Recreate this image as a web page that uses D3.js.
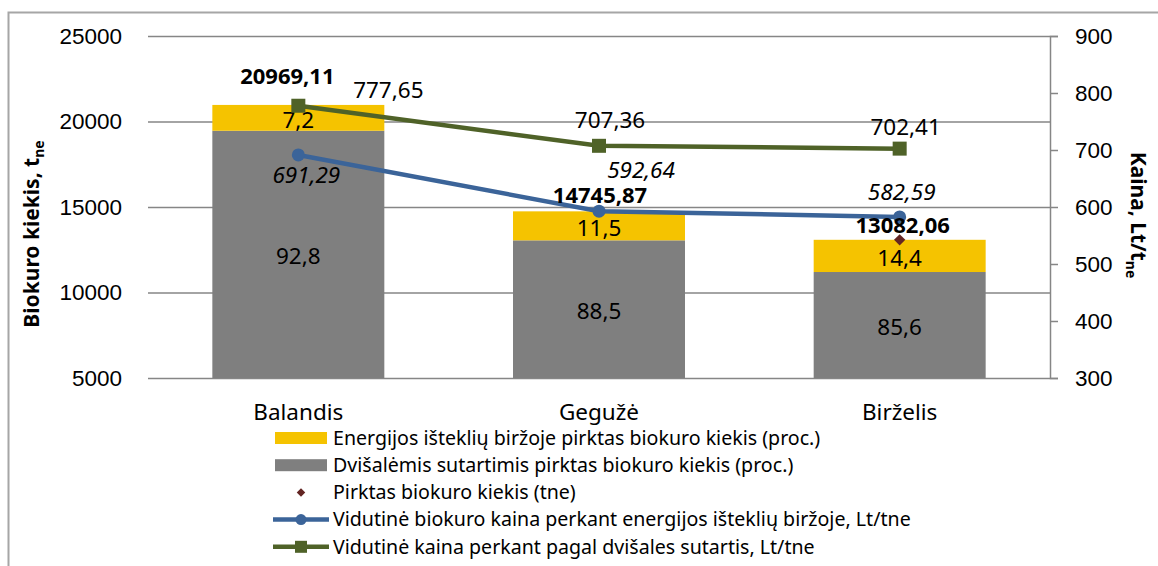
<!DOCTYPE html>
<html>
<head>
<meta charset="utf-8">
<script src="https://cdn.jsdelivr.net/npm/d3@7"></script>
<style>
  body { margin: 0; background: #fff; }
  svg { font-family: "Noto Sans", sans-serif; }
</style>
</head>
<body>
<div id="main"></div>
<script>
// data
const months = ["Balandis", "Gegužė", "Birželis"];
const totalQty = [20969.11, 14745.87, 13082.06];
const exchangePct = [7.2, 11.5, 14.4];
const bilateralPct = [92.8, 88.5, 85.6];
const exchangePrice = [691.29, 592.64, 582.59];
const bilateralPrice = [777.65, 707.36, 702.41];
const qtyTicks = [5000, 10000, 15000, 20000, 25000];
const priceTicks = [300, 400, 500, 600, 700, 800, 900];

// hand placed label offsets (like the moved labels in the original)
const totalNudge = [[-11, -29], [1, -16], [3, -14]];
const bilatNudge = [[90, -16], [11, -26], [6, -22]];
const exchNudge = [[8, 20], [42, -41], [2, -25]];

const legendItems = [
    {type: "bar", color: "#f5c300", text: "Energijos išteklių biržoje pirktas biokuro kiekis (proc.)"},
    {type: "bar", color: "#7f7f7f", text: "Dvišalėmis sutartimis pirktas biokuro kiekis (proc.)"},
    {type: "diamond", color: "#632523", text: "Pirktas biokuro kiekis (tne)"},
    {type: "circle", color: "#3b6499", text: "Vidutinė biokuro kaina perkant energijos išteklių biržoje, Lt/tne"},
    {type: "square", color: "#4f6228", text: "Vidutinė kaina perkant pagal dvišales sutartis, Lt/tne"}
];

const locale = d3.formatLocale({decimal: ",", thousands: "", grouping: [3], currency: ["", ""]});
const fmt2 = locale.format(".2f");
const fmt1 = locale.format(".1f");

class BiofuelChart {
    constructor(config) {
        this.config = config;
        this.svg = d3.select(config.div).append("svg")
            .attr("width", config.width)
            .attr("height", config.height);
        this.rows = months.map((m, i) => ({
            month: m,
            total: totalQty[i],
            gray: totalQty[i] * bilateralPct[i] / 100,
            pctEx: exchangePct[i],
            pctBi: bilateralPct[i],
            exPrice: exchangePrice[i],
            biPrice: bilateralPrice[i],
            i: i
        }));
    }

    createScales() {
        const c = this.config;
        this.x = d3.scaleBand().domain(months).range([c.left, c.right])
            .paddingInner(0.428).paddingOuter(0.214);
        this.yL = d3.scaleLinear().domain([5000, 25000]).range([c.bottom, c.top]);
        this.yR = d3.scaleLinear().domain([300, 900]).range([c.bottom, c.top]);
    }

    drawFrame() {
        this.svg.append("path")
            .attr("d", `M8.5,${this.config.height}V12.5H${this.config.width}`)
            .attr("fill", "none").attr("stroke", "#a6a6a6").attr("stroke-width", 2);
    }

    drawAxes() {
        const c = this.config;
        const left = d3.axisLeft(this.yL).tickValues(qtyTicks)
            .tickSize(-(c.right - c.left)).tickPadding(26).tickFormat(d => d);
        const gl = this.svg.append("g").attr("transform", `translate(${c.left},0)`).call(left);
        gl.select(".domain").remove();
        gl.selectAll("line").attr("stroke", "#868686").attr("stroke-width", 1.5);
        gl.selectAll("text").attr("font-size", 22.5).attr("fill", "#000");

        const right = d3.axisRight(this.yR).tickValues(priceTicks)
            .tickSize(8).tickPadding(17).tickFormat(d => d);
        const gr = this.svg.append("g").attr("transform", `translate(${c.right},0)`).call(right);
        gr.select(".domain").attr("stroke", "#868686").attr("stroke-width", 1.5);
        gr.selectAll("line").attr("stroke", "#868686").attr("stroke-width", 1.5);
        gr.selectAll("text").attr("font-size", 22.5).attr("fill", "#000");

        this.svg.append("g").selectAll("text").data(months).join("text")
            .attr("x", d => this.x(d) + this.x.bandwidth() / 2)
            .attr("y", 412).attr("dy", "0.35em")
            .attr("text-anchor", "middle").attr("font-size", 22.5)
            .text(d => d);

        const t1 = this.svg.append("text")
            .attr("transform", "translate(39,234) rotate(-90)")
            .attr("text-anchor", "middle").attr("font-size", 21).attr("font-weight", "bold");
        t1.append("tspan").text("Biokuro kiekis, t");
        t1.append("tspan").attr("font-size", 14).attr("dy", 5).text("ne");

        const t2 = this.svg.append("text")
            .attr("transform", "translate(1131,215) rotate(90)")
            .attr("text-anchor", "middle").attr("font-size", 21).attr("font-weight", "bold");
        t2.append("tspan").text("Kaina, Lt/t");
        t2.append("tspan").attr("font-size", 14).attr("dy", 5).text("ne");
    }

    drawBars() {
        const g = this.svg.append("g");
        const base = this.yL(5000);
        g.selectAll(".gray").data(this.rows).join("rect")
            .attr("x", d => this.x(d.month)).attr("width", this.x.bandwidth())
            .attr("y", d => this.yL(d.gray)).attr("height", d => base - this.yL(d.gray))
            .attr("fill", "#7f7f7f");
        g.selectAll(".gold").data(this.rows).join("rect")
            .attr("x", d => this.x(d.month)).attr("width", this.x.bandwidth())
            .attr("y", d => this.yL(d.total)).attr("height", d => this.yL(d.gray) - this.yL(d.total))
            .attr("fill", "#f5c300");

        const mid = d => this.x(d.month) + this.x.bandwidth() / 2;
        g.selectAll(".lg").data(this.rows).join("text")
            .attr("x", mid).attr("y", d => (base + this.yL(d.gray)) / 2 + 2)
            .attr("dy", "0.35em").attr("text-anchor", "middle").attr("font-size", 22.5)
            .text(d => fmt1(d.pctBi));
        g.selectAll(".ly").data(this.rows).join("text")
            .attr("x", mid).attr("y", d => (this.yL(d.gray) + this.yL(d.total)) / 2 + 2)
            .attr("dy", "0.35em").attr("text-anchor", "middle").attr("font-size", 22.5)
            .text(d => fmt1(d.pctEx));
    }

    drawLines() {
        const cx = d => this.x(d.month) + this.x.bandwidth() / 2;
        const g = this.svg.append("g");

        g.selectAll(".dia").data(this.rows).join("path")
            .attr("d", d3.symbol(d3.symbolSquare, 64))
            .attr("transform", d => `translate(${cx(d)},${this.yL(d.total)}) rotate(45)`)
            .attr("fill", "#632523");

        const lineEx = d3.line().x(cx).y(d => this.yR(d.exPrice));
        const lineBi = d3.line().x(cx).y(d => this.yR(d.biPrice));

        g.append("path").datum(this.rows).attr("d", lineEx)
            .attr("fill", "none").attr("stroke", "#3b6499").attr("stroke-width", 4.5);
        g.selectAll(".ce").data(this.rows).join("circle")
            .attr("cx", cx).attr("cy", d => this.yR(d.exPrice)).attr("r", 6.5)
            .attr("fill", "#3b6499");

        g.append("path").datum(this.rows).attr("d", lineBi)
            .attr("fill", "none").attr("stroke", "#4f6228").attr("stroke-width", 4.5);
        g.selectAll(".sq").data(this.rows).join("rect")
            .attr("x", d => cx(d) - 7).attr("y", d => this.yR(d.biPrice) - 7)
            .attr("width", 14).attr("height", 14).attr("fill", "#4f6228");

        g.selectAll(".le").data(this.rows).join("text")
            .attr("x", d => cx(d) + exchNudge[d.i][0]).attr("y", d => this.yR(d.exPrice) + exchNudge[d.i][1])
            .attr("dy", "0.35em").attr("text-anchor", "middle").attr("font-size", 22.5)
            .attr("font-style", "italic").text(d => fmt2(d.exPrice));
        g.selectAll(".lb").data(this.rows).join("text")
            .attr("x", d => cx(d) + bilatNudge[d.i][0]).attr("y", d => this.yR(d.biPrice) + bilatNudge[d.i][1])
            .attr("dy", "0.35em").attr("text-anchor", "middle").attr("font-size", 22.5)
            .text(d => fmt2(d.biPrice));
        g.selectAll(".lt").data(this.rows).join("text")
            .attr("x", d => cx(d) + totalNudge[d.i][0]).attr("y", d => this.yL(d.total) + totalNudge[d.i][1])
            .attr("dy", "0.35em").attr("text-anchor", "middle").attr("font-size", 22)
            .attr("font-weight", "bold").text(d => fmt2(d.total));
    }

    drawLegend() {
        const c = this.config;
        const g = this.svg.append("g").attr("transform", `translate(${c.legendX},${c.legendY})`);
        const row = g.selectAll("g").data(legendItems).join("g")
            .attr("transform", (d, i) => `translate(0,${i * 27.2})`);
        row.filter(d => d.type === "bar").append("rect")
            .attr("x", 2).attr("y", -6).attr("width", 52).attr("height", 12).attr("fill", d => d.color);
        row.filter(d => d.type === "diamond").append("path")
            .attr("d", d3.symbol(d3.symbolSquare, 36)).attr("transform", "translate(28,0) rotate(45)")
            .attr("fill", d => d.color);
        row.filter(d => d.type === "circle" || d.type === "square").append("line")
            .attr("x1", 0).attr("x2", 56).attr("stroke", d => d.color).attr("stroke-width", 4.5);
        row.filter(d => d.type === "circle").append("circle")
            .attr("cx", 28).attr("r", 5.5).attr("fill", d => d.color);
        row.filter(d => d.type === "square").append("rect")
            .attr("x", 22).attr("y", -6).attr("width", 12).attr("height", 12).attr("fill", d => d.color);
        row.append("text").attr("x", 60).attr("dy", "0.35em").attr("font-size", 19.6)
            .text(d => d.text);
    }
}

function main() {
    let config = {div: "#main", width: 1158, height: 566, top: 36, bottom: 378,
        left: 148, right: 1050, legendX: 273, legendY: 438};
    let chart = new BiofuelChart(config);
    chart.createScales();
    chart.drawFrame();
    chart.drawAxes();
    chart.drawBars();
    chart.drawLines();
    chart.drawLegend();
}

main();
</script>
</body>
</html>
